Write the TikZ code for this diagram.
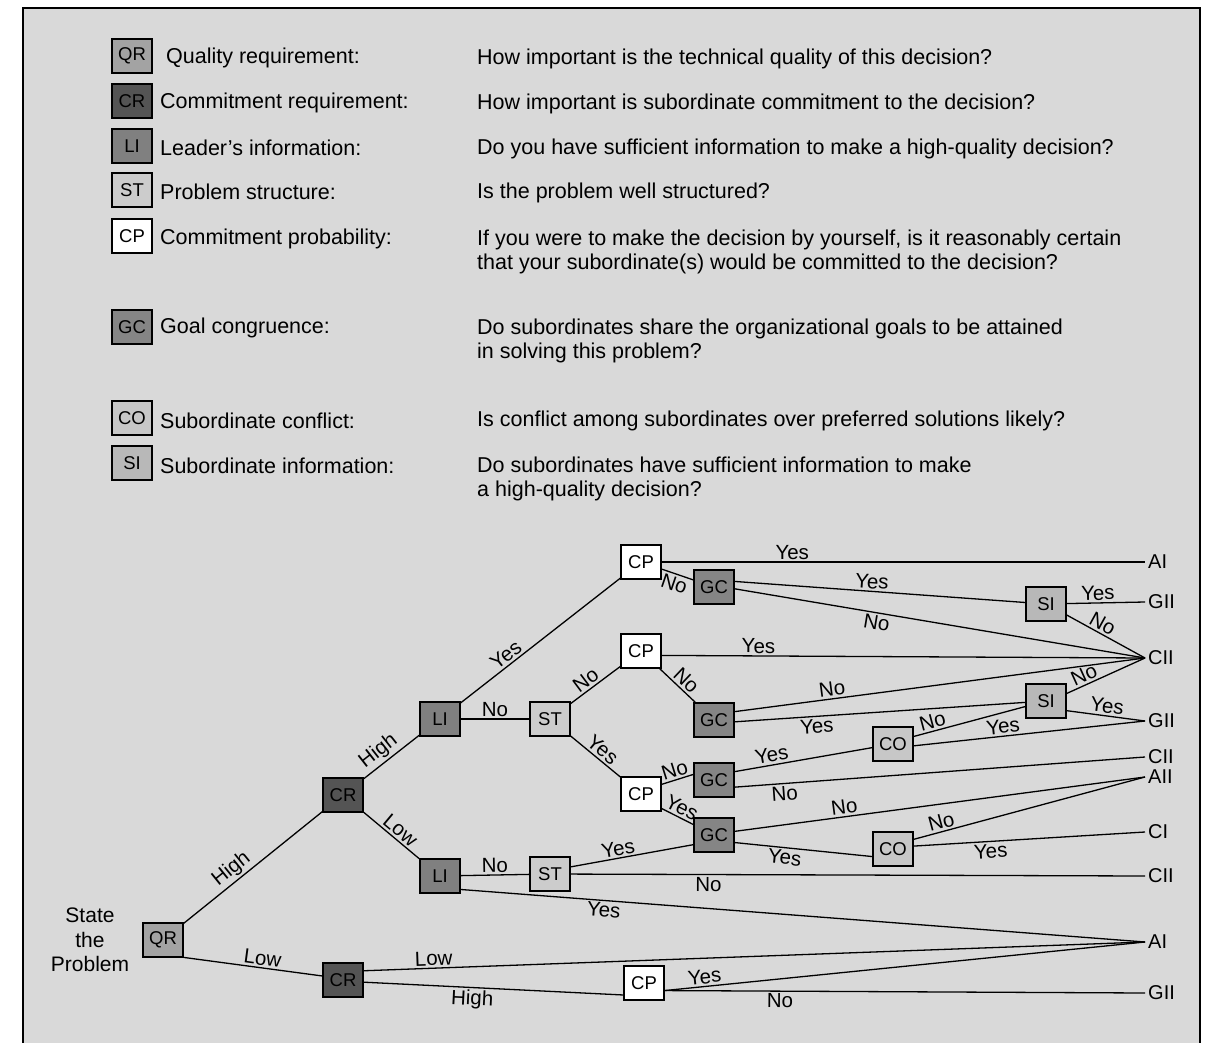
\documentclass[tikz,border=0pt]{standalone}
\usepackage{fontspec}
\setmainfont{Liberation Sans}

\definecolor{paper}{gray}{0.85}
\definecolor{qrfill}{gray}{0.64}
\definecolor{crfill}{gray}{0.33}
\definecolor{lifill}{gray}{0.50}
\definecolor{stfill}{gray}{0.80}
\definecolor{gcfill}{gray}{0.52}
\definecolor{cofill}{gray}{0.78}
\definecolor{sifill}{gray}{0.72}

\tikzset{
  box/.style={draw, line width=1.5pt, minimum width=40pt, minimum height=34pt,
    inner sep=0pt, font=\fontsize{18.5}{20}\selectfont},
  qrbox/.style={box, fill=qrfill},
  crbox/.style={box, fill=crfill},
  libox/.style={box, fill=lifill},
  stbox/.style={box, fill=stfill},
  cpbox/.style={box, fill=white},
  gcbox/.style={box, fill=gcfill},
  cobox/.style={box, fill=cofill},
  sibox/.style={box, fill=sifill},
  outcome/.style={anchor=west, inner sep=3pt, font=\fontsize{20}{22}\selectfont},
}

\begin{document}
\begin{tikzpicture}[x=1pt, y=-1pt]
\useasboundingbox (0,0) rectangle (1210,1043);
% frame
\fill[paper] (23,8) rectangle (1200,1043);
\draw[line width=1.6pt] (23,1043) -- (23,8) -- (1200,8) -- (1200,1043);

% key boxes
\node[qrbox] (kQR) at (132,56) {QR};
\node[crbox] (kCR) at (132,101) {CR};
\node[libox] (kLI) at (132,146) {LI};
\node[stbox] (kST) at (132,190) {ST};
\node[cpbox] (kCP) at (132,236) {CP};
\node[gcbox] (kGC) at (132,327) {GC};
\node[cobox] (kCO) at (132,418) {CO};
\node[sibox] (kSI) at (132,463) {SI};

% key texts
\begin{scope}[every node/.style={anchor=west, inner sep=0pt, font=\fontsize{21.5}{24}\selectfont}]
  \node (tQR) at (166,58) {Quality requirement:};
  \node (tCR) at (160,103) {Commitment requirement:};
  \node (tLI) at (160,148) {Leader's information:};
  \node (tST) at (160,192) {Problem structure:};
  \node (tCP) at (160,239) {Commitment probability:};
  \node (tGC) at (160,328) {Goal congruence:};
  \node (tCO) at (160,421) {Subordinate conflict:};
  \node (tSI) at (160,466) {Subordinate information:};
  \node (qQR) at (477,59) {How important is the technical quality of this decision?};
  \node (qCR) at (477,104) {How important is subordinate commitment to the decision?};
  \node (qLI) at (477,149) {Do you have sufficient information to make a high-quality decision?};
  \node (qST) at (477,193) {Is the problem well structured?};
  \node[anchor=north west, align=left] (qCP) at (477,230)
    {If you were to make the decision by yourself, is it reasonably certain\\that your subordinate(s) would be committed to the decision?};
  \node[anchor=north west, align=left] (qGC) at (477,319)
    {Do subordinates share the organizational goals to be attained\\in solving this problem?};
  \node (qCO) at (477,421) {Is conflict among subordinates over preferred solutions likely?};
  \node[anchor=north west, align=left] (qSI) at (477,457)
    {Do subordinates have sufficient information to make\\a high-quality decision?};
\end{scope}

% tree
\node[align=center, font=\fontsize{21}{24.5}\selectfont] (start) at (90,940) {State\\the\\Problem};
\node[qrbox] (QR) at (163,940) {QR};
\node[crbox] (CRh) at (343,795) {CR};
\node[crbox] (CRl) at (343,980) {CR};
\node[libox] (LIh) at (440,719) {LI};
\node[libox] (LIl) at (440,876) {LI};
\node[stbox] (STh) at (550,719) {ST};
\node[stbox] (STl) at (550,874) {ST};
\node[cpbox] (CPa) at (641,562) {CP};
\node[cpbox] (CPb) at (641,651) {CP};
\node[cpbox] (CPc) at (641,794) {CP};
\node[cpbox] (CPd) at (644,983) {CP};
\node[gcbox] (GCa) at (714,587) {GC};
\node[gcbox] (GCb) at (714,720) {GC};
\node[gcbox] (GCc) at (714,780) {GC};
\node[gcbox] (GCd) at (714,835) {GC};
\node[cobox] (COa) at (893,744) {CO};
\node[cobox] (COb) at (893,849) {CO};
\node[sibox] (SIa) at (1046,604) {SI};
\node[sibox] (SIb) at (1046,701) {SI};

% outcomes
\node[outcome] (AIa) at (1145,562) {AI};
\node[outcome] (GIIa) at (1145,602) {GII};
\node[outcome] (CIIa) at (1145,658) {CII};
\node[outcome] (GIIb) at (1145,721) {GII};
\node[outcome] (CIIb) at (1145,757) {CII};
\node[outcome] (AII) at (1145,777) {AII};
\node[outcome] (CI) at (1145,832) {CI};
\node[outcome] (CIIc) at (1145,876) {CII};
\node[outcome] (AIb) at (1145,942) {AI};
\node[outcome] (GIIc) at (1145,993) {GII};

\begin{scope}[every edge/.style={draw, line width=1.3pt},
              every node/.style={sloped, inner sep=2pt, font=\fontsize{20.5}{22}\selectfont}]
  \path (QR) edge node[above, pos=.4] {High} (CRh);
  \path (QR.-40) edge node[above, pos=.56] {Low} (CRl.169);
  \path (CRh) edge node[above, pos=.4] {High} (LIh);
  \path (CRh) edge node[above, pos=.55] {Low} (LIl);
  \path (CRl.24) edge node[above, pos=.09] {Low} (AIb.west);
  \path (CRl.-6) edge node[below, pos=.42] {High} (CPd.-150);
  \path (LIh) edge node[above, pos=.32] {Yes} (CPa);
  \path (LIh) edge node[above] {No} (STh);
  \path (LIl) edge node[above] {No} (STl);
  \path (LIl.-33) edge node[below, pos=.21] {Yes} (AIb.west);
  \path (STh) edge node[above, pos=.42] {No} (CPb);
  \path (STh) edge node[above, pos=.52] {Yes} (CPc);
  \path (STl.19) edge node[above, pos=.4] {Yes} (GCd.-155);
  \path (STl) edge node[below, pos=.24] {No} (CIIc.west);
  \path (CPa) edge node[above, pos=.27] {Yes} (AIa.west);
  \path (CPa) edge node[below] {No} (GCa);
  \path (CPb.-12) edge node[above, pos=.2] {Yes} (CIIa.west);
  \path (CPb) edge node[above, pos=.56] {No} (GCb);
  \path (CPc.25) edge node[above] {No} (GCc.165);
  \path (CPc.-35) edge node[above] {Yes} (GCd);
  \path (CPd.-20) edge node[above, pos=.085] {Yes} (AIb.west);
  \path (CPd.-20) edge node[below, pos=.24] {No} (GIIc.west);
  \path (GCa.15) edge node[above, pos=.47] {Yes} (SIa);
  \path (GCa.-5) edge node[below, pos=.35] {No} (CIIa.west);
  \path (GCb.22) edge node[above, pos=.24] {No} (CIIa.west);
  \path (GCb.-5) edge node[below, pos=.28] {Yes} (SIb);
  \path (GCc.22) edge node[above, pos=.28] {Yes} (COa);
  \path (GCc.-19) edge node[below, pos=.12] {No} (CIIb.west);
  \path (GCd.10) edge node[above, pos=.27] {No} (AII.west);
  \path (GCd.-20) edge node[below, pos=.37] {Yes} (COb.-160);
  \path (COa.20) edge node[above, pos=.19] {No} (SIb);
  \path (COa.-5) edge node[above, pos=.39] {Yes} (GIIb.west);
  \path (COb.25) edge node[above, pos=.13] {No} (AII.west);
  \path (COb.8) edge node[below, pos=.33] {Yes} (CI.west);
  \path (SIa) edge node[above, pos=.4] {Yes} (GIIa.west);
  \path (SIa.-28) edge node[above, pos=.4] {No} (CIIa.west);
  \path (SIb.20) edge node[above, pos=.27] {No} (CIIa.west);
  \path (SIb.-25) edge node[above, pos=.5] {Yes} (GIIb.west);
\end{scope}
\end{tikzpicture}
\end{document}
